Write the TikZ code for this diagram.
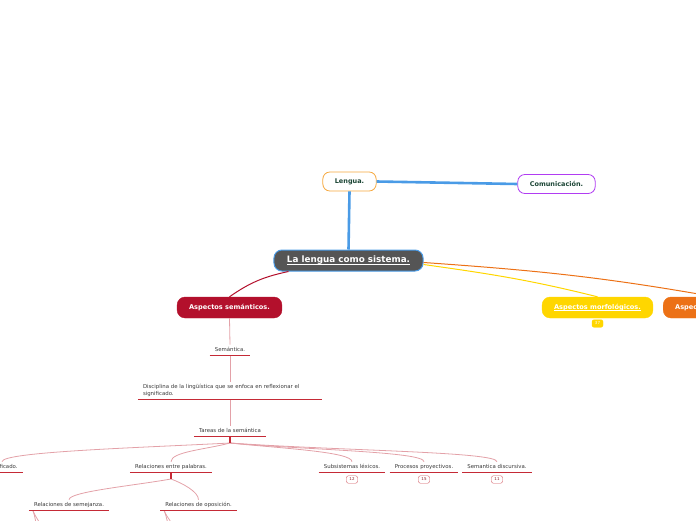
\documentclass[tikz,border=0pt]{standalone}
\usepackage{fontspec}
\setmainfont{DejaVu Sans}
\usetikzlibrary{arrows.meta,positioning,calc}
\definecolor{mapaGray}{HTML}{555555}
\definecolor{mapaBlue}{HTML}{4A9BE6}
\definecolor{mapaAmber}{HTML}{F6A83E}
\definecolor{mapaViolet}{HTML}{B13DF2}
\definecolor{mapaGreen}{HTML}{1B4535}
\definecolor{mapaRed}{HTML}{B3102C}
\definecolor{mapaRose}{HTML}{E3A1A8}
\definecolor{mapaRule}{HTML}{C52A36}
\definecolor{mapaGold}{HTML}{FFD600}
\definecolor{mapaOrange}{HTML}{EC7116}
\definecolor{mapaInk}{HTML}{3A3A3A}

\begin{document}
\begin{tikzpicture}[
  x=1pt,y=-1pt,
  root/.style={rounded corners=8pt,draw=mapaBlue,line width=1pt,fill=mapaGray,text=white,inner xsep=13pt,minimum height=21pt,text height=6.6pt,text depth=1.8pt,font=\fontsize{8.8}{10}\selectfont\bfseries},
  topic/.style={rounded corners=7pt,draw=#1,line width=0.8pt,fill=white,text=mapaGreen,inner xsep=12pt,minimum height=19pt,font=\fontsize{6.5}{8}\selectfont\bfseries},
  branch/.style={rounded corners=8pt,draw=#1,fill=#1,text=white,inner xsep=12pt,minimum height=21pt,text height=4.9pt,text depth=1.4pt,font=\fontsize{6.6}{8}\selectfont\bfseries},
  leaf/.style={inner xsep=5pt,inner ysep=2.5pt,text height=4pt,text depth=1.2pt,text=mapaInk,font=\fontsize{5.4}{7}\selectfont},
  badge/.style={rounded corners=2pt,draw=mapaRule!80,fill=white,text=mapaRule!70!black,inner sep=0.5pt,minimum width=11pt,minimum height=7.5pt,font=\fontsize{4}{4}\selectfont},
  link/.style={draw=mapaBlue,line width=2.6pt},
  stem/.style={draw=#1,line width=1pt},
  twig/.style={draw=mapaRose,line width=0.8pt},
  rule/.style={draw=mapaRule,line width=1.3pt}
]
\useasboundingbox (0,0) rectangle (696,520);
\clip (0,0) rectangle (696,520);

\node[root] (main) at (348.5,260.5) {\underline{\smash{La lengua como sistema.}}};
\node[topic=mapaAmber] (lengua) at (349.5,181.5) {Lengua.};
\node[topic=mapaViolet] (comunic) at (556.5,184) {Comunicación.};

\node[branch=mapaRed] (semant) at (229.5,307.5) {Aspectos semánticos.};
\node[branch=mapaGold] (morfo) at (597.5,307.5) {\underline{\smash{Aspectos morfológicos.}}};
\node[branch=mapaOrange,anchor=west] (sintac) at (663,307.5) {Aspectos sintácticos.};
\node[badge,draw=mapaGold,fill=mapaGold,text=white] (b37) at (597.5,323.5) {37};

\node[leaf] (semtxt) at (230,350) {Semántica.};
\node[leaf,text width=174pt,align=left,text depth=8.2pt] (discip) at (230,390.4) {Disciplina de la lingüística que se enfoca en reflexionar el\\significado.};
\node[leaf] (tareas) at (230,431) {Tareas de la semántica};

\node[leaf] (signif) at (2,467) {Significado.};
\node[leaf] (relpal) at (171,467) {Relaciones entre palabras.};
\node[leaf] (subsis) at (352,467) {Subsistemas léxicos.};
\node[leaf] (proces) at (424,467) {Procesos proyectivos.};
\node[leaf] (semdis) at (497,467) {Semantica discursiva.};
\node[badge] (b12) at (352,479.5) {12};
\node[badge] (b15) at (424,479.5) {15};
\node[badge] (b11) at (497,479.5) {11};

\node[leaf] (semej) at (69,505) {Relaciones de semejanza.};
\node[leaf] (opos) at (198.5,505) {Relaciones de oposición.};

\coordinate (tfork) at (230,443);
\coordinate (rfork) at (171,479);
\coordinate (semejA) at (37,530);
\coordinate (semejB) at (42,530);
\coordinate (oposA) at (169,530);
\coordinate (oposB) at (174,530);

\draw[link] (lengua.east) -- (comunic.west);
\draw[link] (lengua.south) -- (main.north);

\draw[stem=mapaRed] ([xshift=15pt]main.south west) to[out=-168,in=35] (semant.north);
\draw[stem=mapaGold] ([yshift=-4pt]main.east) to[out=-8,in=166] (morfo.north);
\draw[stem=mapaOrange] ([yshift=-2pt]main.east) to[out=-4,in=170] (sintac.north);

\draw[twig] (semant.south) -- (semtxt.north);
\draw[twig] (semtxt.south) -- (discip.north);
\draw[twig] (discip.south) -- (tareas.north);

\foreach \n/\a/\d in {signif/183/90pt,relpal/195/25pt,subsis/-6/50pt,proces/-5/80pt,semdis/-4/110pt}
  {\draw[twig] (tfork) to[out=\a,in=90,out distance=\d,in distance=10pt] (\n.north);}
\foreach \n/\a/\d in {semej/190/40pt,opos/-20/12pt}
  {\draw[twig] (rfork) to[out=\a,in=90,out distance=\d,in distance=8pt] (\n.north);}
\foreach \n in {semejA,semejB} {\draw[twig] ([xshift=4pt]semej.south west) to[out=-70,in=100] (\n);}
\foreach \n in {oposA,oposB} {\draw[twig] ([xshift=4pt]opos.south west) to[out=-70,in=100] (\n);}

\draw[rule] (tareas.south) -- (tfork);
\draw[rule] (relpal.south) -- (rfork);
\foreach \n in {semtxt,discip,tareas,signif,relpal,subsis,proces,semdis,semej,opos}
  {\draw[rule] (\n.south west) -- (\n.south east);}
\end{tikzpicture}
\end{document}
